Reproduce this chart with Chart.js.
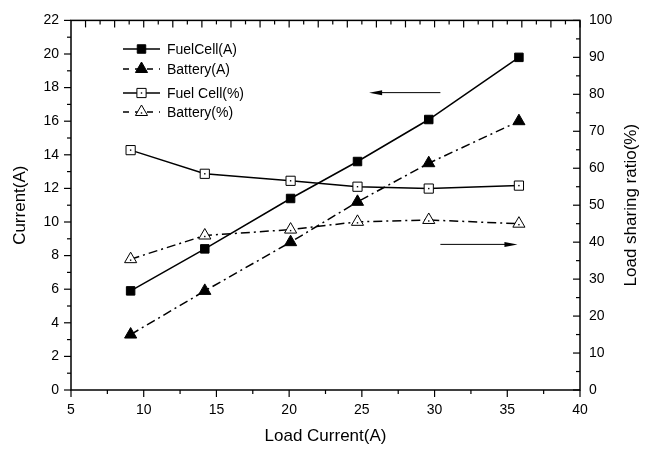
<!DOCTYPE html>
<html>
<head>
<meta charset="utf-8">
<script src="https://cdn.jsdelivr.net/npm/chart.js@4.4.1/dist/chart.umd.min.js"></script>
<style>
  html, body { margin: 0; padding: 0; background: #fff; }
  #wrap { width: 650px; height: 452px; }
</style>
</head>
<body>
<div id="wrap"><canvas id="loadChart" width="650" height="452"></canvas></div>
<script>
// values
const loadCurrent = [9.1, 14.2, 20.1, 24.7, 29.6, 35.8];
const fuelCellA = [5.9, 8.4, 11.4, 13.6, 16.1, 19.8];
const batteryA = [3.3, 5.9, 8.8, 11.2, 13.5, 16.0];
const fuelCellPct = [64.9, 58.5, 56.6, 55.0, 54.5, 55.3];
const batteryPct = [35.4, 41.8, 43.4, 45.5, 46.0, 45.0];

const currentTicks = [0, 2, 4, 6, 8, 10, 12, 14, 16, 18, 20, 22];
const ratioTicks = [0, 10, 20, 30, 40, 50, 60, 70, 80, 90, 100];
const loadTicks = [5, 10, 15, 20, 25, 30, 35, 40];

const toXY = (ys) => ys.map((y, i) => ({ x: loadCurrent[i], y: y }));

const FONT = 'Liberation Sans, Arial, sans-serif';

function drawMarker(ctx, style, filled, x, y, r) {
    ctx.save();
    ctx.beginPath();
    if (style === 'rect') {
        const s = Math.SQRT1_2 * r;
        ctx.rect(x - s, y - s, 2 * s, 2 * s);
    } else {
        ctx.moveTo(x, y - r);
        ctx.lineTo(x + r * 0.866, y + r * 0.5);
        ctx.lineTo(x - r * 0.866, y + r * 0.5);
        ctx.closePath();
    }
    ctx.fillStyle = filled ? '#000' : '#fff';
    ctx.fill();
    ctx.lineWidth = 1;
    ctx.strokeStyle = '#000';
    ctx.stroke();
    if (!filled) {
        ctx.fillStyle = '#000';
        ctx.fillRect(x - 0.7, y - 0.7 + (style === 'rect' ? 0 : 1), 1.4, 1.4);
    }
    ctx.restore();
}

function line(ctx, x1, y1, x2, y2) {
    ctx.beginPath();
    ctx.moveTo(x1, y1);
    ctx.lineTo(x2, y2);
    ctx.stroke();
}

function arrow(ctx, x1, y1, x2, y2) {
    const dir = Math.sign(x2 - x1);
    ctx.save();
    ctx.lineWidth = 1;
    ctx.strokeStyle = '#000';
    line(ctx, x1, y1, x2 - dir * 8, y2);
    ctx.beginPath();
    ctx.moveTo(x2, y2);
    ctx.lineTo(x2 - dir * 13, y2 - 2.5);
    ctx.lineTo(x2 - dir * 13, y2 + 2.5);
    ctx.closePath();
    ctx.fillStyle = '#000';
    ctx.fill();
    ctx.restore();
}

const framePlugin = {
    id: 'frame',
    beforeDatasetsDraw(chart) {
        const ctx = chart.ctx;
        const { left, right, top, bottom } = chart.chartArea;
        const xs = chart.scales.x, yl = chart.scales.y, yr = chart.scales.y1;
        ctx.save();
        ctx.strokeStyle = '#000';
        ctx.lineWidth = 1.5;
        ctx.strokeRect(left, top, right - left, bottom - top);
        ctx.lineWidth = 1.2;
        // bottom ticks, outward
        for (let v = 5; v <= 40; v += 2.5) {
            const px = xs.getPixelForValue(v);
            line(ctx, px, bottom, px, bottom + (v % 5 === 0 ? 7 : 4));
        }
        // top ticks, inward
        for (let v = 6; v <= 40; v += 1) {
            const px = xs.getPixelForValue(v);
            line(ctx, px, top, px, top + (v % 2 === 0 ? 7 : 4));
        }
        // left ticks, outward
        for (let v = 0; v <= 22; v += 1) {
            const py = yl.getPixelForValue(v);
            line(ctx, left - (v % 2 === 0 ? 7 : 4), py, left, py);
        }
        // right ticks, inward
        for (let v = 0; v <= 100; v += 5) {
            const py = yr.getPixelForValue(v);
            line(ctx, right - (v % 10 === 0 ? 7 : 4), py, right, py);
        }
        // right axis title, reading bottom to top like the left one
        ctx.save();
        ctx.translate(631, (top + bottom) / 2);
        ctx.rotate(-Math.PI / 2);
        ctx.font = '17px ' + FONT;
        ctx.fillStyle = '#000';
        ctx.textAlign = 'center';
        ctx.textBaseline = 'middle';
        ctx.fillText('Load sharing ratio(%)', 0, 0);
        ctx.restore();
        ctx.restore();
    },
    afterDatasetsDraw(chart) {
        const ctx = chart.ctx;
        const xs = chart.scales.x, yl = chart.scales.y, yr = chart.scales.y1;

        // markers
        chart.data.datasets.forEach((ds, i) => {
            const meta = chart.getDatasetMeta(i);
            meta.data.forEach(pt => drawMarker(ctx, ds.marker, ds.filled, pt.x, pt.y, ds.markerSize));
        });

        // direction arrows
        arrow(ctx, xs.getPixelForValue(30.4), yl.getPixelForValue(17.7),
                   xs.getPixelForValue(25.5), yl.getPixelForValue(17.7));
        arrow(ctx, xs.getPixelForValue(30.4), yr.getPixelForValue(39.4),
                   xs.getPixelForValue(35.7), yr.getPixelForValue(39.4));

        // legend inside the plot
        const rows = [49, 69, 93, 112];
        ctx.save();
        ctx.font = '14px ' + FONT;
        ctx.textBaseline = 'middle';
        chart.data.datasets.forEach((ds, i) => {
            const y = rows[i];
            ctx.strokeStyle = '#000';
            ctx.lineWidth = 1.5;
            ctx.setLineDash(ds.borderDash ? [6, 6] : []);
            line(ctx, 123, y, 160, y);
            ctx.setLineDash([]);
            drawMarker(ctx, ds.marker, ds.filled, 141.5, y, ds.markerSize);
            ctx.fillStyle = '#000';
            ctx.fillText(ds.label, 167, y + 1);
        });
        ctx.restore();
    }
};

const baseSet = {
    borderColor: '#000',
    borderWidth: 1.5,
    pointRadius: 0,
    pointHoverRadius: 0,
    tension: 0,
    fill: false
};

new Chart(document.getElementById('loadChart').getContext('2d'), {
    type: 'line',
    data: {
        datasets: [
            Object.assign({}, baseSet, { label: 'FuelCell(A)', data: toXY(fuelCellA), yAxisID: 'y',
                marker: 'rect', filled: true, markerSize: 6 }),
            Object.assign({}, baseSet, { label: 'Battery(A)', data: toXY(batteryA), yAxisID: 'y',
                borderDash: [9, 4, 2, 4], marker: 'tri', filled: true, markerSize: 7 }),
            Object.assign({}, baseSet, { label: 'Fuel Cell(%)', data: toXY(fuelCellPct), yAxisID: 'y1',
                marker: 'rect', filled: false, markerSize: 6.5 }),
            Object.assign({}, baseSet, { label: 'Battery(%)', data: toXY(batteryPct), yAxisID: 'y1',
                borderDash: [9, 4, 2, 4], marker: 'tri', filled: false, markerSize: 7 })
        ]
    },
    options: {
        responsive: false,
        animation: false,
        layout: { padding: { top: 14, left: 0, right: 0, bottom: 0 } },
        plugins: {
            legend: { display: false },
            tooltip: { enabled: false }
        },
        scales: {
            x: {
                type: 'linear',
                min: 5, max: 40,
                afterBuildTicks: s => { s.ticks = loadTicks.map(v => ({ value: v })); },
                afterFit: s => { s.height = 62; },
                grid: { display: false, drawTicks: false },
                border: { display: false },
                ticks: { color: '#000', padding: 12, font: { size: 14, family: FONT }, maxRotation: 0 },
                title: { display: true, text: 'Load Current(A)', color: '#000',
                    font: { size: 17, family: FONT }, padding: { top: 4, bottom: 5 } }
            },
            y: {
                type: 'linear',
                position: 'left',
                min: 0, max: 22,
                afterBuildTicks: s => { s.ticks = currentTicks.map(v => ({ value: v })); },
                afterFit: s => { s.width = 71; },
                grid: { display: false, drawTicks: false },
                border: { display: false },
                ticks: { color: '#000', padding: 12, font: { size: 14, family: FONT } },
                title: { display: true, text: 'Current(A)', color: '#000',
                    font: { size: 17, family: FONT }, padding: { top: 10, bottom: 4 } }
            },
            y1: {
                type: 'linear',
                position: 'right',
                min: 0, max: 100,
                afterBuildTicks: s => { s.ticks = ratioTicks.map(v => ({ value: v })); },
                afterFit: s => { s.width = 70; },
                grid: { display: false, drawTicks: false },
                border: { display: false },
                ticks: { color: '#000', padding: 9, font: { size: 14, family: FONT } },
                title: { display: false }
            }
        }
    },
    plugins: [framePlugin]
});
</script>
</body>
</html>
